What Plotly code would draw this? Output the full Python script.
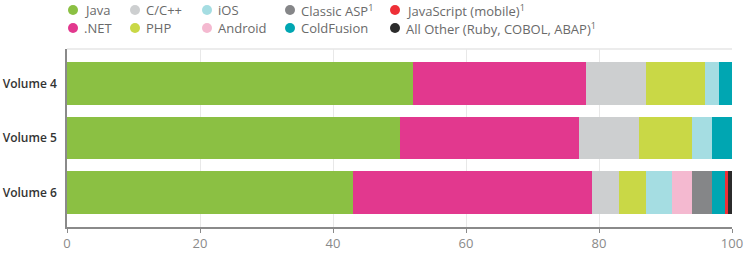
import plotly.graph_objects as go

# ---------------- data ----------------
volumes = ["Volume 4", "Volume 5", "Volume 6"]

languages = ["Java", ".NET", "C/C++", "PHP", "iOS", "Android",
             "Classic ASP", "ColdFusion", "JavaScript (mobile)",
             "All Other (Ruby, COBOL, ABAP)"]
footnote = [False, False, False, False, False, False, True, False, True, True]

java = [52, 50, 43]
dotnet = [26, 27, 36]
c_cpp = [9, 9, 4]
php = [9, 8, 4]
ios = [2, 3, 4]
android = [0, 0, 3]
classic_asp = [0, 0, 3]
coldfusion = [2, 3, 2]
javascript_mobile = [0, 0, 0.4]
all_other = [0, 0, 0.6]

x_ticks = [0, 20, 40, 60, 80, 100]

# ---------------- styles ----------------
colors = ["#8bc043", "#e2388e", "#cdcfd0", "#c9d846", "#a5dde2", "#f4b9d0",
          "#858688", "#00a6b2", "#ee2f37", "#2b2b2b"]
series = [java, dotnet, c_cpp, php, ios, android, classic_asp, coldfusion,
          javascript_mobile, all_other]

W, H = 753, 258
ML, MR, MT, MB = 67, 21, 49, 31
PW, PH = W - ML - MR, H - MT - MB

FONT = "Open Sans"

fig = go.Figure()
for name, vals, col in zip(languages, series, colors):
    fig.add_trace(go.Bar(
        y=volumes, x=vals, name=name, orientation="h",
        marker=dict(color=col, line=dict(width=0)),
        showlegend=False,
    ))

# ---------------- custom legend (column-wise, 2 rows) ----------------
col_x = [73, 135, 207, 290, 395]   # marker centres, px
row_y = [10, 28]                   # row centres, px


def px_to_paper(px, py):
    return (px - ML) / PW, (H - MB - py) / PH


shapes = []
annotations = []
for i, (name, col, fn) in enumerate(zip(languages, colors, footnote)):
    c, r = i // 2, i % 2
    mx, my = px_to_paper(col_x[c], row_y[r])
    shapes.append(dict(
        type="circle", xref="paper", yref="paper",
        xsizemode="pixel", ysizemode="pixel",
        xanchor=mx, yanchor=my, x0=-5, x1=5, y0=-5, y1=5,
        fillcolor=col, line=dict(width=0),
    ))
    tx, ty = px_to_paper(col_x[c] + 9, row_y[r])
    label = name + ("<sup>1</sup>" if fn else "")
    annotations.append(dict(
        x=tx, y=ty, xref="paper", yref="paper",
        xanchor="left", yanchor="middle", showarrow=False,
        text=label, font=dict(family=FONT, size=13, color="#6a6a6a"),
    ))

# light top border
shapes.append(dict(type="line", xref="paper", yref="paper",
                   x0=0, x1=1, y0=1, y1=1,
                   line=dict(color="#e6e6e6", width=1.5), layer="below"))

fig.update_layout(
    width=W, height=H,
    margin=dict(l=ML, r=MR, t=MT, b=MB, autoexpand=False),
    barmode="stack", bargap=0.22,
    plot_bgcolor="white", paper_bgcolor="white",
    shapes=shapes, annotations=annotations,
    xaxis=dict(
        range=[0, 100], tickvals=x_ticks, ticktext=[str(v) for v in x_ticks],
        showgrid=True, gridcolor="#e8e8e8", gridwidth=1,
        showline=True, linecolor="#8a8a8a", linewidth=1.5,
        ticks="outside", ticklen=4, tickcolor="#8a8a8a",
        tickfont=dict(family=FONT, size=13, color="#8a8a8a"),
        zeroline=False, fixedrange=True, automargin=False,
    ),
    yaxis=dict(
        type="category", range=[2.636, -0.636],
        showgrid=False, showline=True, linecolor="#8a8a8a", linewidth=1.5,
        ticks="", ticklabelstandoff=6,
        tickfont=dict(family=FONT, size=12, color="#333333", weight=600),
        fixedrange=True, automargin=False,
    ),
    hovermode="closest",
)

fig.write_html("out.html")
